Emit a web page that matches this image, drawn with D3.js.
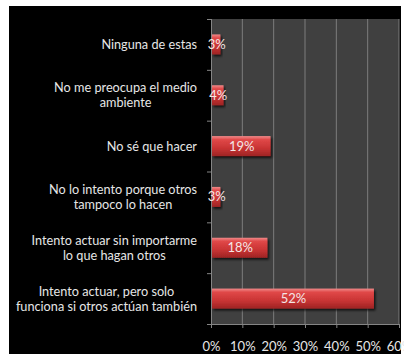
<!DOCTYPE html>
<html><head><meta charset="utf-8">
<script src="https://cdn.jsdelivr.net/npm/d3@7"></script>
<style>
html,body{margin:0;padding:0;background:#fff;}
svg{display:block;}
text{font-family:Lato,"Open Sans",sans-serif;}
</style></head>
<body>
<script>
// Responses, top to bottom
const categories = [
  ["Ninguna de estas"],
  ["No me preocupa el medio", "ambiente"],
  ["No sé que hacer"],
  ["No lo intento porque otros", "tampoco lo hacen"],
  ["Intento actuar sin importarme", "lo que hagan otros"],
  ["Intento actuar, pero solo", "funciona si otros actúan también"]
];
const values = [3, 4, 19, 3, 18, 52];
const tickValues = [0, 10, 20, 30, 40, 50, 60];

const W = 404, H = 354;
const FS = 13;       // tick and value labels
const FS_CAT = 12.7; // category labels
const svg = d3.select("body").append("svg").attr("width", W).attr("height", H);

// black panel
svg.append("rect").attr("x", 9).attr("y", 6).attr("width", 392).attr("height", H - 6).attr("fill", "#000");

const plot = {left: 211, top: 19, right: 399, bottom: 324};

const x = d3.scaleLinear().domain([0, 60]).range([plot.left, plot.right]);
const y = d3.scaleBand().domain(d3.range(categories.length)).range([plot.top, plot.bottom]);

const defs = svg.append("defs");
const grad = defs.append("linearGradient").attr("id", "barGrad").attr("x1", 0).attr("y1", 0).attr("x2", 0).attr("y2", 1);
grad.append("stop").attr("offset", "0%").attr("stop-color", "#f08a8a");
grad.append("stop").attr("offset", "18%").attr("stop-color", "#e04848");
grad.append("stop").attr("offset", "60%").attr("stop-color", "#c93434");
grad.append("stop").attr("offset", "100%").attr("stop-color", "#9e2424");
const shadow = defs.append("filter").attr("id", "shadow").attr("x", "-10%").attr("y", "-30%").attr("width", "130%").attr("height", "180%");
shadow.append("feDropShadow").attr("dx", 1.5).attr("dy", 2).attr("stdDeviation", 1.2).attr("flood-color", "#000").attr("flood-opacity", 0.7);

// plot background
svg.append("rect").attr("x", plot.left).attr("y", plot.top)
  .attr("width", plot.right - plot.left).attr("height", plot.bottom - plot.top)
  .attr("fill", "#404040");

// vertical gridlines
svg.append("g").selectAll("line").data(tickValues.slice(1)).join("line")
  .attr("x1", d => x(d)).attr("x2", d => x(d))
  .attr("y1", plot.top).attr("y2", plot.bottom)
  .attr("stroke", "#7c7c7c").attr("stroke-width", 1);

// bottom axis
const xAxis = svg.append("g").attr("transform", `translate(0,${plot.bottom})`)
  .call(d3.axisBottom(x).tickValues(tickValues).tickFormat(d => d + "%").tickSizeInner(4).tickSizeOuter(0).tickPadding(14));
xAxis.select(".domain").attr("stroke", "#858585");
xAxis.selectAll(".tick line").attr("stroke", "#858585");
xAxis.selectAll("text").attr("fill", "#e6e6e6").attr("font-size", FS).attr("font-family", "Lato, sans-serif");

// left axis (category ticks at band boundaries)
svg.append("line").attr("x1", plot.left + 0.5).attr("x2", plot.left + 0.5)
  .attr("y1", plot.top).attr("y2", plot.bottom).attr("stroke", "#858585");
svg.append("g").selectAll("line").data(d3.range(categories.length + 1)).join("line")
  .attr("x1", plot.left - 4).attr("x2", plot.left)
  .attr("y1", i => plot.top + i * y.step() + 0.5).attr("y2", i => plot.top + i * y.step() + 0.5)
  .attr("stroke", "#858585");

// category labels, each block centred and right-aligned to the axis
const labels = svg.append("g").selectAll("text").data(categories).join("text")
  .attr("fill", "#e6e6e6").attr("font-size", FS_CAT).attr("text-anchor", "middle");
labels.each(function(lines, i) {
  const t = d3.select(this);
  const cy = y(i) + y.bandwidth() / 2;
  const lh = 15;
  const y0 = cy - (lines.length - 1) * lh / 2 + 4.5;
  const widths = lines.map(l => {
    const tmp = svg.append("text").attr("font-size", FS_CAT).text(l);
    const w = tmp.node().getComputedTextLength(); tmp.remove(); return w;
  });
  const cx = 197 - d3.max(widths) / 2;
  lines.forEach((l, k) => t.append("tspan").attr("x", cx).attr("y", y0 + k * lh).text(l));
});

// bars
const barH = 20;
svg.append("g").selectAll("rect").data(values).join("rect")
  .attr("x", x(0) + 1)
  .attr("y", (d, i) => y(i) + y.bandwidth() / 2 - barH / 2)
  .attr("width", d => x(d) - x(0) - 1)
  .attr("height", barH)
  .attr("fill", "url(#barGrad)")
  .attr("filter", "url(#shadow)");

// value labels
svg.append("g").selectAll("text").data(values).join("text")
  .attr("x", d => (x(0) + x(d)) / 2 + 1)
  .attr("y", (d, i) => y(i) + y.bandwidth() / 2 + 4.5)
  .attr("text-anchor", "middle")
  .attr("fill", "#f4e6e6").attr("font-size", FS)
  .text(d => d + "%");
</script>
</body></html>
